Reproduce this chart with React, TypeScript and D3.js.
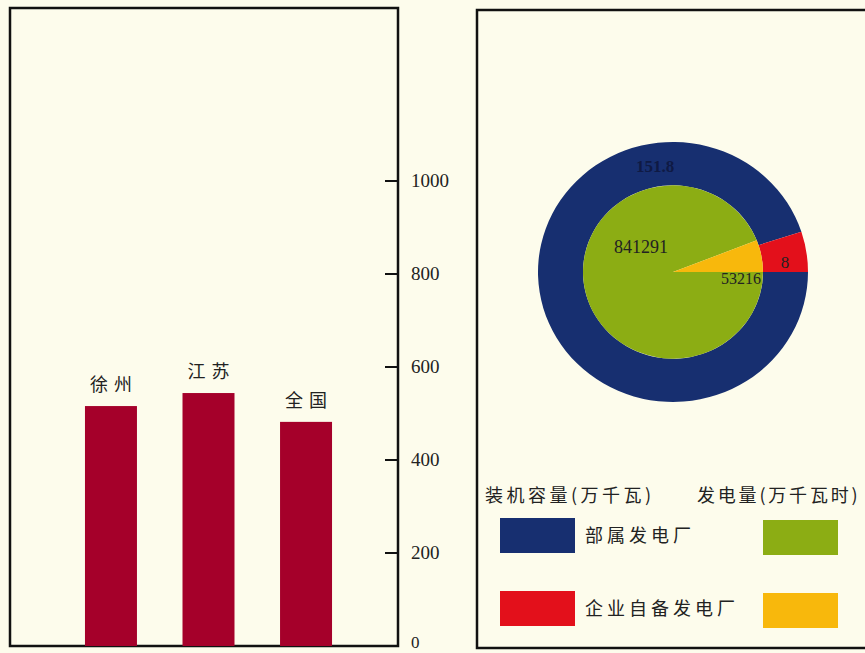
import React from "react";
import * as d3 from "d3";

const categories = ["徐州", "江苏", "全国"];
const barValues = [516, 544, 482];
const yTicks = [0, 200, 400, 600, 800, 1000];

const capacityLabels = ["部属发电厂", "企业自备发电厂"];
const capacityValues = [151.8, 8];
const generationValues = [841291, 53216];

const capacityColors = ["#172f70", "#e3101b"];
const generationColors = ["#8cad14", "#f8b80c"];

const W = 865;
const H = 653;
const BG = "#fdfcec";
const SERIF = "'Liberation Serif', 'DejaVu Serif', serif";
const CJK = "'Noto Sans CJK SC', sans-serif";

export default function App() {
  // Bar panel
  const y = d3.scaleLinear().domain([0, 1000]).range([646, 181]);
  const x = d3.scaleBand().domain(categories).range([60, 357]).paddingInner(0.467).paddingOuter(0.256);

  // Pie panel
  const cx = 673;
  const cy = 272;
  const rOuter = 135;
  const rInner = 90;
  const sy = 130 / 135;
  const pie = d3
    .pie<number>()
    .sort(null)
    .startAngle(Math.PI / 2)
    .endAngle(Math.PI / 2 + 2 * Math.PI);
  const capArcs = pie(capacityValues);
  const genArcs = pie(generationValues);
  const ringArc = d3.arc<d3.PieArcDatum<number>>().innerRadius(rInner).outerRadius(rOuter);
  const innerArc = d3.arc<d3.PieArcDatum<number>>().innerRadius(0).outerRadius(rInner);

  return (
    <svg width={W} height={H} style={{ position: "absolute", left: 0, top: 0, background: BG }}>
      <rect x={0} y={0} width={W} height={H} fill={BG} />
      {/* Left panel frame */}
      <path d={`M10,8 H398 V646 H10 Z`} fill="none" stroke="#111" strokeWidth={2.5} />
      {/* bars */}
      {categories.map((c, i) => (
        <g key={c}>
          <rect x={x(c)} y={y(barValues[i])} width={x.bandwidth()} height={y(0) - y(barValues[i])} fill="#a5002a" />
          <text
            x={(x(c) as number) + x.bandwidth() / 2 + 3}
            y={y(barValues[i]) - 15}
            textAnchor="middle"
            fontFamily={CJK}
            fontSize={18}
            letterSpacing={6}
            fill="#222"
          >
            {c}
          </text>
        </g>
      ))}
      {/* y axis ticks on right edge */}
      {yTicks.map((t) => (
        <g key={t}>
          {t > 0 && <line x1={385} x2={398} y1={y(t)} y2={y(t)} stroke="#111" strokeWidth={2} />}
          <text x={411} y={t === 0 ? 648 : y(t) + 6} fontFamily={SERIF} fontSize={t === 0 ? 17 : 19} fill="#222">
            {t}
          </text>
        </g>
      ))}

      {/* Right panel frame */}
      <path d={`M877,10 H477 V648 H877`} fill="none" stroke="#111" strokeWidth={2.5} />

      {/* Donut */}
      <g transform={`translate(${cx},${cy}) scale(1,${sy})`}>
        {capArcs.map((a, i) => (
          <path key={"c" + i} d={ringArc(a) || ""} fill={capacityColors[i]} />
        ))}
        {genArcs.map((a, i) => (
          <path key={"g" + i} d={innerArc(a) || ""} fill={generationColors[i]} />
        ))}
      </g>
      {/* Pie labels */}
      <text x={655} y={172} textAnchor="middle" fontFamily={SERIF} fontWeight="bold" fontSize={17} fill="#0f1a44">
        {capacityValues[0]}
      </text>
      <text x={785} y={268} textAnchor="middle" fontFamily={SERIF} fontSize={17} fill="#222">
        {capacityValues[1]}
      </text>
      <text x={641} y={253} textAnchor="middle" fontFamily={SERIF} fontSize={18} fill="#222">
        {generationValues[0]}
      </text>
      <text x={761} y={284} textAnchor="end" fontFamily={SERIF} fontSize={16} fill="#222">
        {generationValues[1]}
      </text>

      {/* Legend */}
      <text x={485} y={502} fontFamily={CJK} fontSize={18} letterSpacing={3.5} fill="#222">
        装机容量(万千瓦)
      </text>
      <text x={697} y={502} fontFamily={CJK} fontSize={18} letterSpacing={2.8} fill="#222">
        发电量(万千瓦时)
      </text>
      {capacityLabels.map((l, i) => (
        <g key={l}>
          <rect x={500} y={518 + i * 73} width={75} height={35} fill={capacityColors[i]} />
          <text x={585} y={542 + i * 73} fontFamily={CJK} fontSize={18} letterSpacing={4} fill="#222">
            {l}
          </text>
          <rect x={763} y={520 + i * 73} width={75} height={35} fill={generationColors[i]} />
        </g>
      ))}
    </svg>
  );
}
